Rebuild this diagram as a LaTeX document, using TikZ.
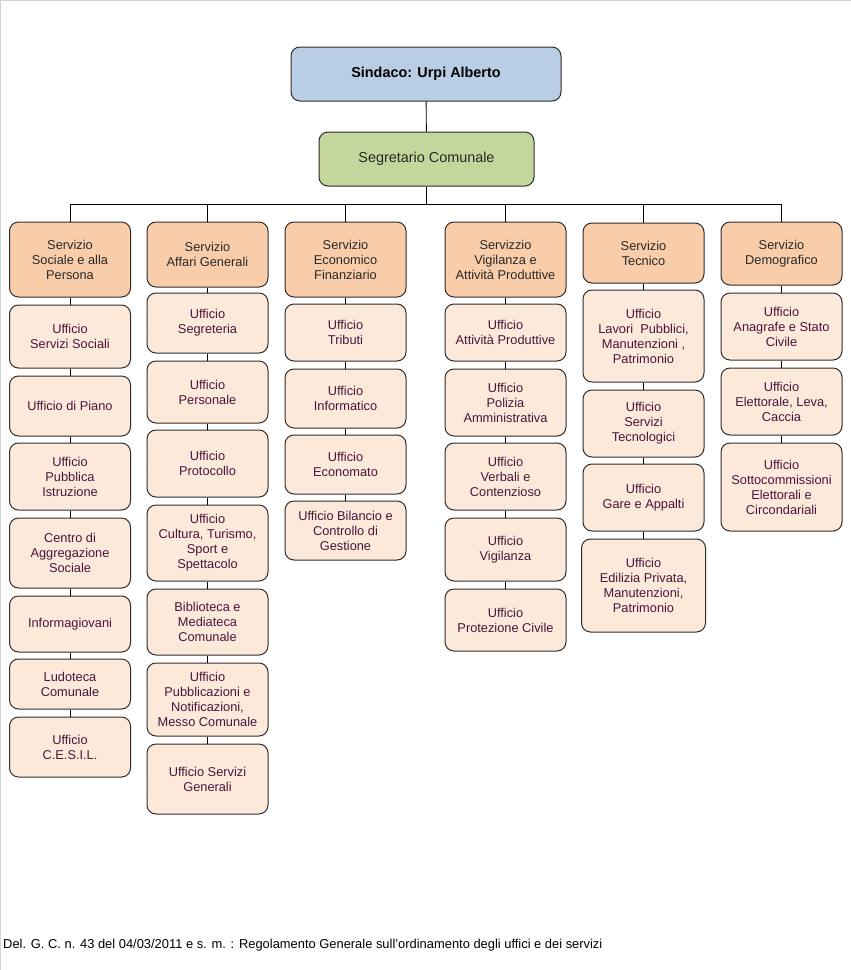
\documentclass[tikz,border=0pt]{standalone}
\usepackage{fontspec}
\setmainfont{Liberation Sans}
\definecolor{sindfill}{RGB}{185,205,229}
\definecolor{segfill}{RGB}{195,214,155}
\definecolor{servfill}{RGB}{250,205,170}
\definecolor{uffill}{RGB}{253,233,217}
\definecolor{boxline}{RGB}{45,45,45}
\definecolor{ufftext}{RGB}{72,22,62}
\definecolor{servtext}{RGB}{40,40,40}
\definecolor{framecol}{RGB}{205,215,225}
\tikzset{
  box/.style={draw=boxline, line width=1pt, rounded corners=9pt, align=center, inner sep=1pt,
    font=\fontsize{12.8}{15}\selectfont},
  top/.style={box, fill=sindfill, font=\fontsize{14.4}{16}\selectfont\bfseries, text=black},
  seg/.style={box, fill=segfill, font=\fontsize{14.4}{16}\selectfont, text=servtext},
  serv/.style={box, fill=servfill, text=servtext, minimum width=121pt},
  uff/.style={box, fill=uffill, text=ufftext, minimum width=121pt},
  conn/.style={draw=black, line width=0.9pt}
}
\begin{document}
\begin{tikzpicture}[x=1pt,y=-1pt]
\useasboundingbox (0,0) rectangle (851,970);
\draw[framecol, line width=1pt] (0.5,970) -- (0.5,0.5) -- (851,0.5);
% top
\node[top, minimum width=270pt, minimum height=54pt] (sind) at (426,74) {Sindaco: Urpi Alberto};
\node[seg, minimum width=215pt, minimum height=54pt] (segr) at (426.5,159) {Segretario Comunale};
\coordinate (bus) at (426.5,204);
% column 1
\node[serv, minimum height=75pt] (s1) at (70,259.5) {Servizio\\Sociale e alla\\Persona};
\node[uff, minimum height=63pt] (u11) at (70,336.5) {Ufficio\\Servizi Sociali};
\node[uff, minimum height=60pt] (u12) at (70,406) {Ufficio di Piano};
\node[uff, minimum height=67pt] (u13) at (70,476.5) {Ufficio\\Pubblica\\Istruzione};
\node[uff, minimum height=70pt] (u14) at (70,553) {Centro di\\Aggregazione\\Sociale};
\node[uff, minimum height=56pt] (u15) at (70,624) {Informagiovani};
\node[uff, minimum height=50pt] (u16) at (70,684) {Ludoteca\\Comunale};
\node[uff, minimum height=60pt] (u17) at (70,747) {Ufficio\\C.E.S.I.L.};
% column 2
\node[serv, minimum height=65pt] (s2) at (207.5,254.5) {Servizio\\Affari Generali};
\node[uff, minimum height=60pt] (u21) at (207.5,323) {Ufficio\\Segreteria};
\node[uff, minimum height=62pt] (u22) at (207.5,392) {Ufficio\\Personale};
\node[uff, minimum height=67pt] (u23) at (207.5,463.5) {Ufficio\\Protocollo};
\node[uff, minimum height=76pt] (u24) at (207.5,543) {Ufficio\\Cultura, Turismo,\\Sport e\\Spettacolo};
\node[uff, minimum height=66pt] (u25) at (207.5,622) {Biblioteca e\\Mediateca\\Comunale};
\node[uff, minimum height=73pt] (u26) at (207.5,699.5) {Ufficio\\Pubblicazioni e\\Notificazioni,\\Messo Comunale};
\node[uff, minimum height=70pt] (u27) at (207.5,779) {Ufficio Servizi\\Generali};
% column 3
\node[serv, minimum height=75pt] (s3) at (345.5,259.5) {Servizio\\Economico\\Finanziario};
\node[uff, minimum height=57pt] (u31) at (345.5,332.5) {Ufficio\\Tributi};
\node[uff, minimum height=59pt] (u32) at (345.5,398.5) {Ufficio\\Informatico};
\node[uff, minimum height=59pt] (u33) at (345.5,464.5) {Ufficio\\Economato};
\node[uff, minimum height=59pt] (u34) at (345.5,530.5) {Ufficio Bilancio e\\Controllo di\\Gestione};
% column 4
\node[serv, minimum height=75pt] (s4) at (505.5,259.5) {Servizzio\\Vigilanza e\\Attività Produttive};
\node[uff, minimum height=57pt] (u41) at (505.5,332.5) {Ufficio\\Attività Produttive};
\node[uff, minimum height=67pt] (u42) at (505.5,402.5) {Ufficio\\Polizia\\Amministrativa};
\node[uff, minimum height=67pt] (u43) at (505.5,476.5) {Ufficio\\Verbali e\\Contenzioso};
\node[uff, minimum height=63pt] (u44) at (505.5,549.5) {Ufficio\\Vigilanza};
\node[uff, minimum height=62pt] (u45) at (505.5,620) {Ufficio\\Protezione Civile};
% column 5
\node[serv, minimum height=60pt] (s5) at (643.5,253) {Servizio\\Tecnico};
\node[uff, minimum height=92pt] (u51) at (643.5,336) {Ufficio\\Lavori\ \ Pubblici,\\Manutenzioni ,\\Patrimonio};
\node[uff, minimum height=67pt] (u52) at (643.5,423.5) {Ufficio\\Servizi\\Tecnologici};
\node[uff, minimum height=67pt] (u53) at (643.5,497.5) {Ufficio\\Gare e Appalti};
\node[uff, minimum height=93pt, minimum width=124pt] (u54) at (643.5,585.5) {Ufficio\\Edilizia Privata,\\Manutenzioni,\\Patrimonio};
% column 6
\node[serv, minimum height=63pt] (s6) at (781.5,253.5) {Servizio\\Demografico};
\node[uff, minimum height=67pt] (u61) at (781.5,326.5) {Ufficio\\Anagrafe e Stato\\Civile};
\node[uff, minimum height=67pt] (u62) at (781.5,401.5) {Ufficio\\Elettorale, Leva,\\Caccia};
\node[uff, minimum height=88pt] (u63) at (781.5,487) {Ufficio\\Sottocommissioni\\Elettorali e\\Circondariali};
% connectors
\draw[conn] (sind) -- (segr);
\draw[conn] (segr.south) -- (bus);
\foreach \s in {s1,s2,s3,s4,s5,s6} {\draw[conn] (\s.north) |- (bus);}
\foreach \a/\b in {s1/u11,u11/u12,u12/u13,u13/u14,u14/u15,u15/u16,u16/u17,
  s2/u21,u21/u22,u22/u23,u23/u24,u24/u25,u25/u26,u26/u27,
  s3/u31,u31/u32,u32/u33,u33/u34,
  s4/u41,u41/u42,u42/u43,u43/u44,u44/u45,
  s5/u51,u51/u52,u52/u53,u53/u54,
  s6/u61,u61/u62,u62/u63} {\draw[conn] (\a.south) -- (\b.north);}
% footer
\node[anchor=base west, inner sep=0pt, font=\fontsize{12.9}{15}\selectfont, text=black] (foot) at (3,948)
  {Del. G. C. n. 43 del 04/03/2011 e s. m. : Regolamento Generale sull'ordinamento degli uffici e dei servizi};
\end{tikzpicture}
\end{document}
